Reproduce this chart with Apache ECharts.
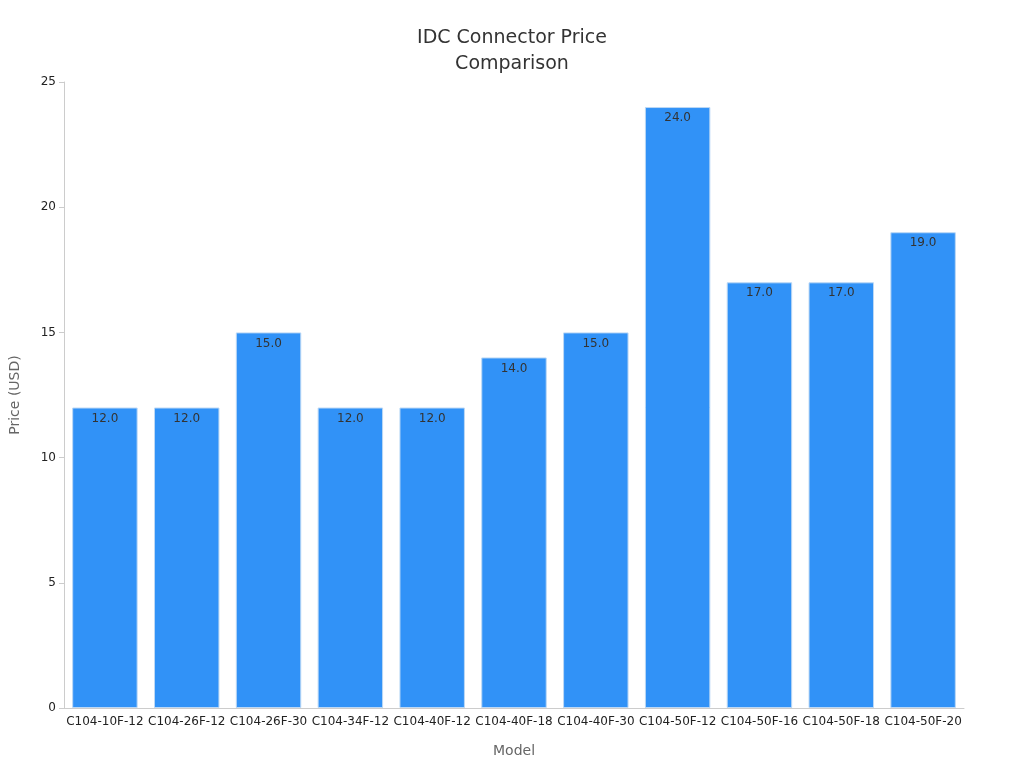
<!DOCTYPE html>
<html><head><meta charset="utf-8">
<script src="https://cdn.jsdelivr.net/npm/echarts@6/dist/echarts.min.js"></script>
<style>html,body{margin:0;padding:0;background:#fff}#c{width:1024px;height:768px}</style>
</head><body><div id="c"></div>
<script>
const categories = ["C104-10F-12","C104-26F-12","C104-26F-30","C104-34F-12","C104-40F-12","C104-40F-18","C104-40F-30","C104-50F-12","C104-50F-16","C104-50F-18","C104-50F-20"];
const prices = [12,12,15,12,12,14,15,24,17,17,19];
const yTicks = [0,5,10,15,20,25];
const font = "DejaVu Sans";
const chart = echarts.init(document.getElementById('c'));
chart.setOption({
  animation:false,
  textStyle:{fontFamily:font},
  title:{text:"IDC Connector Price\nComparison",left:'center',top:20,textStyle:{fontFamily:font,fontSize:19,fontWeight:'normal',color:'#333',lineHeight:26}},
  grid:{left:60,right:60,top:82,bottom:60},
  xAxis:{type:'category',data:categories,name:'Model',nameLocation:'middle',nameGap:36,
    nameTextStyle:{fontSize:14,color:'#666'},
    axisLine:{lineStyle:{color:'#ccc'}},axisTick:{alignWithLabel:true,lineStyle:{color:'#ccc'}},
    axisLabel:{fontSize:12,color:'#222',interval:0}},
  yAxis:{type:'value',min:yTicks[0],max:yTicks[yTicks.length-1],interval:5,name:'Price (USD)',nameLocation:'middle',nameGap:42,
    nameTextStyle:{fontSize:14,color:'#666'},
    axisLine:{show:true,lineStyle:{color:'#ccc'}},axisTick:{show:true,lineStyle:{color:'#ccc'}},
    splitLine:{show:false},axisLabel:{fontSize:12,color:'#222'}},
  series:[{type:'bar',data:prices,barCategoryGap:'20%',
    itemStyle:{color:'#3192f7',borderColor:'#bcd8f5',borderWidth:1},
    label:{show:true,position:'insideTop',formatter:p=>p.value.toFixed(1),color:'#333',fontSize:12,offset:[0,0]}}]
});
</script></body></html>
